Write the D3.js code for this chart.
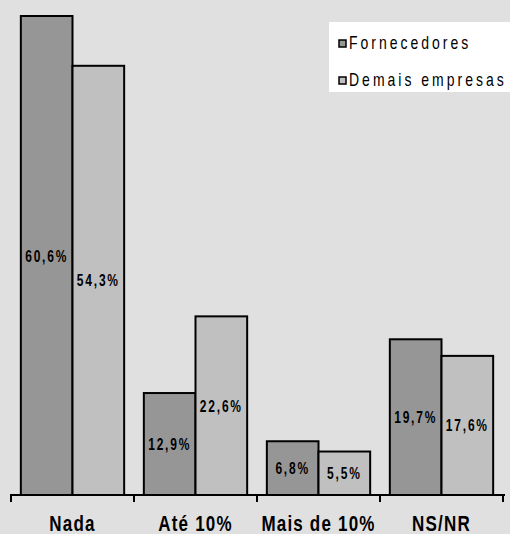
<!DOCTYPE html>
<html>
<head>
<meta charset="utf-8">
<script src="https://cdn.jsdelivr.net/npm/d3@7"></script>
<style>
  body { margin: 0; background: #e0e0e0; }
  svg { display: block; }
</style>
</head>
<body>
<svg></svg>
<script>
// data
var categories = ["Nada", "Até 10%", "Mais de 10%", "NS/NR"];
var seriesNames = ["Fornecedores", "Demais empresas"];
var fornecedores = [60.6, 12.9, 6.8, 19.7];
var demais = [54.3, 22.6, 5.5, 17.6];
var valueLabels = [["60,6%", "12,9%", "6,8%", "19,7%"], ["54,3%", "22,6%", "5,5%", "17,6%"]];
var colors = ["#969696", "#c0c0c0"];

var svg = d3.select("svg")
    .attr("width", 510)
    .attr("height", 534);

svg.append("rect")
   .attr("width", 510)
   .attr("height", 534)
   .style("fill", "#e0e0e0");

var base = 495;

// scales
var x0 = d3.scaleBand()
    .domain(categories)
    .range([11, 503])
    .paddingInner(0.16)
    .paddingOuter(0.08);

var x1 = d3.scaleBand()
    .domain(seriesNames)
    .range([0, x0.bandwidth()]);

var y = d3.scaleLinear()
    .domain([0, 60.6])
    .range([base, 16]);

var series = [fornecedores, demais];

// bars
var groups = svg.selectAll("g.cat")
    .data(categories)
    .enter().append("g")
    .attr("class", "cat")
    .attr("transform", function(d) { return "translate(" + x0(d) + ",0)"; });

groups.each(function(cat, i) {
  var g = d3.select(this);
  seriesNames.forEach(function(s, j) {
    var v = series[j][i];
    g.append("rect")
     .attr("x", x1(s))
     .attr("y", y(v))
     .attr("width", x1.bandwidth())
     .attr("height", base - y(v))
     .style("fill", colors[j])
     .style("stroke", "#000")
     .style("stroke-width", "2px");

    var cx = x1(s) + x1.bandwidth() / 2;
    var cy = (y(v) + base) / 2;
    g.append("text")
     .attr("transform", "translate(" + cx + "," + (cy + 6) + ") scale(1,1.35)")
     .attr("text-anchor", "middle")
     .style("font-family", "Liberation Sans, Arial, sans-serif")
     .style("font-weight", "bold")
     .style("font-size", "12px")
     .style("letter-spacing", "1.8px")
     .text(valueLabels[j][i]);
  });
});

// axis
svg.append("line")
   .attr("x1", 10).attr("x2", 505)
   .attr("y1", base).attr("y2", base)
   .style("stroke", "#000").style("stroke-width", "2px");

var tickX = categories.map(function(c) { return x0(c) - x0.step() * x0.paddingInner() / 2; });
tickX.push(x0(categories[categories.length - 1]) + x0.bandwidth() + x0.step() * x0.paddingInner() / 2);
svg.selectAll("line.tick")
   .data(tickX)
   .enter().append("line")
   .attr("class", "tick")
   .attr("x1", function(d) { return d; })
   .attr("x2", function(d) { return d; })
   .attr("y1", base)
   .attr("y2", base + 7)
   .style("stroke", "#000")
   .style("stroke-width", "2px");

// category labels
svg.selectAll("text.cat")
   .data(categories)
   .enter().append("text")
   .attr("class", "cat")
   .attr("transform", function(d) {
     return "translate(" + (x0(d) + x0.bandwidth() / 2) + ",531) scale(1,1.3)";
   })
   .attr("text-anchor", "middle")
   .style("font-family", "Liberation Sans, Arial, sans-serif")
   .style("font-weight", "bold")
   .style("font-size", "17px")
   .style("letter-spacing", "1.2px")
   .text(function(d) { return d; });

// legend
var legend = svg.append("g");
legend.append("rect")
   .attr("x", 329).attr("y", 22)
   .attr("width", 181).attr("height", 70)
   .style("fill", "#fff");

seriesNames.forEach(function(s, j) {
  var ly = 44 + j * 37;
  legend.append("rect")
    .attr("x", 339).attr("y", ly - 4)
    .attr("width", 7).attr("height", 7)
    .style("fill", colors[j])
    .style("stroke", "#000")
    .style("stroke-width", "1.5px");
  legend.append("text")
    .attr("transform", "translate(349," + (ly + 5) + ") scale(1,1.25)")
    .style("font-family", "Liberation Sans, Arial, sans-serif")
    .style("font-size", "14px")
    .style("letter-spacing", "3px")
    .text(s);
});
</script>
</body>
</html>
